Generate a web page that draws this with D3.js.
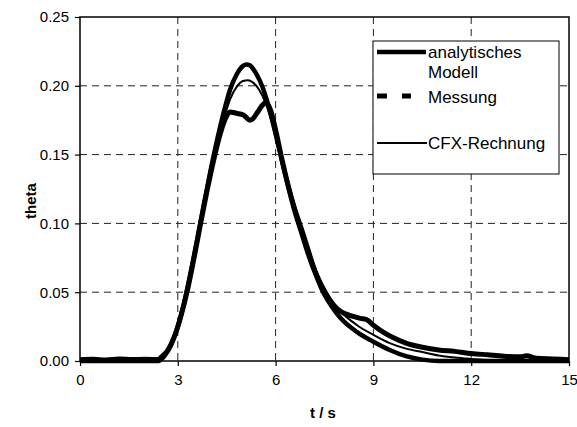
<!DOCTYPE html>
<html>
<head>
<meta charset="utf-8">
<script src="https://cdn.jsdelivr.net/npm/d3@7/dist/d3.min.js"></script>
<style>
  html, body { margin: 0; padding: 0; background: #fff; }
  svg { display: block; font-family: "Liberation Sans", Arial, sans-serif; }
</style>
</head>
<body>
<svg id="chart" width="577" height="427"></svg>
<script>
// Axis ticks
const xTicks = [0, 3, 6, 9, 12, 15];
const yTicks = [0.00, 0.05, 0.10, 0.15, 0.20, 0.25];

// Analytical model: time (s) and theta
const modellT = [0, 2.4, 2.6, 2.8, 3.0, 3.2, 3.4, 3.6, 3.8, 4.0, 4.2, 4.4, 4.6, 4.8, 5.0, 5.1, 5.2, 5.4, 5.6, 5.8, 6.0, 6.2, 6.4, 6.6, 6.8, 7.0, 7.2, 7.4, 7.6, 7.8, 8.0, 8.5, 9.0, 9.5, 10.0, 10.5, 11.0, 15];
const modellV = [0, 0, 0.004, 0.012, 0.025, 0.043, 0.065, 0.089, 0.114, 0.138, 0.160, 0.180, 0.197, 0.208, 0.2145, 0.2155, 0.215, 0.209, 0.199, 0.184, 0.165, 0.145, 0.126, 0.110, 0.096, 0.081, 0.066, 0.053, 0.044, 0.037, 0.031, 0.021, 0.014, 0.008, 0.0035, 0.001, 0, 0];

// Measurement
const messungT = [0, 0.4, 0.8, 1.2, 1.6, 2.0, 2.4, 2.5, 2.7, 2.9, 3.1, 3.3, 3.5, 3.7, 3.9, 4.1, 4.3, 4.5, 4.6, 4.8, 5.0, 5.1, 5.2, 5.3, 5.45, 5.6, 5.7, 5.85, 6.0, 6.2, 6.4, 6.6, 6.8, 7.0, 7.2, 7.4, 7.6, 7.8, 8.0, 8.3, 8.6, 8.8, 9.0, 9.3, 9.6, 10.0, 10.5, 11.0, 11.5, 12.0, 12.5, 13.0, 13.5, 13.7, 14.0, 14.5, 15.0];
const messungV = [0.001, 0.0012, 0.0008, 0.0015, 0.001, 0.0012, 0.001, 0.003, 0.008, 0.018, 0.033, 0.052, 0.075, 0.100, 0.124, 0.146, 0.165, 0.178, 0.181, 0.180, 0.179, 0.177, 0.175, 0.176, 0.181, 0.186, 0.188, 0.182, 0.168, 0.146, 0.126, 0.108, 0.093, 0.078, 0.065, 0.054, 0.046, 0.040, 0.036, 0.033, 0.031, 0.030, 0.026, 0.021, 0.017, 0.013, 0.010, 0.008, 0.007, 0.0055, 0.0045, 0.0035, 0.003, 0.0038, 0.002, 0.0015, 0.001];

// CFX simulation
const cfxT = [0, 2.4, 2.6, 2.8, 3.0, 3.2, 3.4, 3.6, 3.8, 4.0, 4.2, 4.4, 4.6, 4.8, 5.0, 5.15, 5.3, 5.5, 5.7, 5.9, 6.1, 6.3, 6.5, 6.7, 6.9, 7.1, 7.3, 7.5, 7.7, 8.0, 8.5, 9.0, 9.5, 10.0, 10.5, 11.0, 11.5, 12.0, 12.5, 13.0, 15];
const cfxV = [0, 0, 0.004, 0.012, 0.025, 0.043, 0.065, 0.089, 0.113, 0.136, 0.157, 0.175, 0.190, 0.199, 0.2035, 0.204, 0.2025, 0.197, 0.187, 0.172, 0.153, 0.134, 0.117, 0.102, 0.088, 0.075, 0.063, 0.053, 0.045, 0.036, 0.026, 0.019, 0.013, 0.009, 0.0065, 0.004, 0.0025, 0.0015, 0.0007, 0, 0];

const svg = d3.select("#chart");
const m = { left: 80, right: 569, top: 17, bottom: 361 };

const x = d3.scaleLinear().domain([0, 15]).range([m.left, m.right]);
const y = d3.scaleLinear().domain([0, 0.25]).range([m.bottom, m.top]);

// Dashed grid
const grid = svg.append("g").attr("stroke", "#222").attr("stroke-width", 1).attr("stroke-dasharray", "7,5");
grid.selectAll("line.v").data(xTicks.filter(d => d > 0 && d < 15)).join("line")
  .attr("x1", d => x(d)).attr("x2", d => x(d)).attr("y1", m.top).attr("y2", m.bottom);
grid.selectAll("line.h").data(yTicks.filter(d => d > 0 && d < 0.25)).join("line")
  .attr("y1", d => y(d)).attr("y2", d => y(d)).attr("x1", m.left).attr("x2", m.right);

// Frame
svg.append("rect").attr("x", m.left).attr("y", m.top)
  .attr("width", m.right - m.left).attr("height", m.bottom - m.top)
  .attr("fill", "none").attr("stroke", "#000").attr("stroke-width", 1.5);

// Axes
const xAxis = svg.append("g").attr("transform", `translate(0,${m.bottom})`)
  .call(d3.axisBottom(x).tickValues(xTicks).tickSize(5).tickPadding(8).tickFormat(d3.format("d")));
const yAxis = svg.append("g").attr("transform", `translate(${m.left},0)`)
  .call(d3.axisLeft(y).tickValues(yTicks).tickSize(5).tickPadding(6).tickFormat(d3.format(".2f")));
[xAxis, yAxis].forEach(a => {
  a.select(".domain").remove();
  a.selectAll(".tick line").attr("stroke", "#000").attr("stroke-width", 1.2);
  a.selectAll(".tick text").attr("fill", "#000").style("font-size", "15px")
    .style("font-family", "'Liberation Sans', Arial, sans-serif");
});

// Axis titles
svg.append("text").attr("x", 323).attr("y", 418).attr("text-anchor", "middle")
  .style("font-weight", "bold").style("font-size", "15px").text("t / s");
svg.append("text").attr("transform", "translate(36,201) rotate(-90)").attr("text-anchor", "middle")
  .style("font-weight", "bold").style("font-size", "15px").text("theta");

// Curves
const line = d3.line().x(d => x(d[0])).y(d => y(d[1])).curve(d3.curveMonotoneX);
const plot = svg.append("g");
plot.append("path").datum(d3.zip(messungT, messungV)).attr("d", line)
  .attr("fill", "none").attr("stroke", "#000").attr("stroke-width", 5).attr("stroke-linejoin", "round");
plot.append("path").datum(d3.zip(modellT, modellV)).attr("d", line)
  .attr("fill", "none").attr("stroke", "#000").attr("stroke-width", 4.5).attr("stroke-linejoin", "round");
plot.append("path").datum(d3.zip(cfxT, cfxV)).attr("d", line)
  .attr("fill", "none").attr("stroke", "#000").attr("stroke-width", 2);

// Legend
const lg = svg.append("g");
lg.append("rect").attr("x", 373).attr("y", 41).attr("width", 186).attr("height", 133)
  .attr("fill", "#fff").attr("stroke", "#000").attr("stroke-width", 1);
lg.append("line").attr("x1", 377).attr("x2", 426).attr("y1", 52).attr("y2", 52)
  .attr("stroke", "#000").attr("stroke-width", 4.5);
lg.append("line").attr("x1", 377).attr("x2", 411).attr("y1", 96).attr("y2", 96)
  .attr("stroke", "#000").attr("stroke-width", 5).attr("stroke-dasharray", "10,15");
lg.append("line").attr("x1", 377).attr("x2", 427).attr("y1", 143).attr("y2", 143)
  .attr("stroke", "#000").attr("stroke-width", 2);
const lt = lg.append("g").style("font-size", "17px").attr("fill", "#000");
lt.append("text").attr("x", 428).attr("y", 58).text("analytisches");
lt.append("text").attr("x", 428).attr("y", 78).text("Modell");
lt.append("text").attr("x", 428).attr("y", 103).text("Messung");
lt.append("text").attr("x", 428).attr("y", 149).text("CFX-Rechnung");
</script>
</body>
</html>
